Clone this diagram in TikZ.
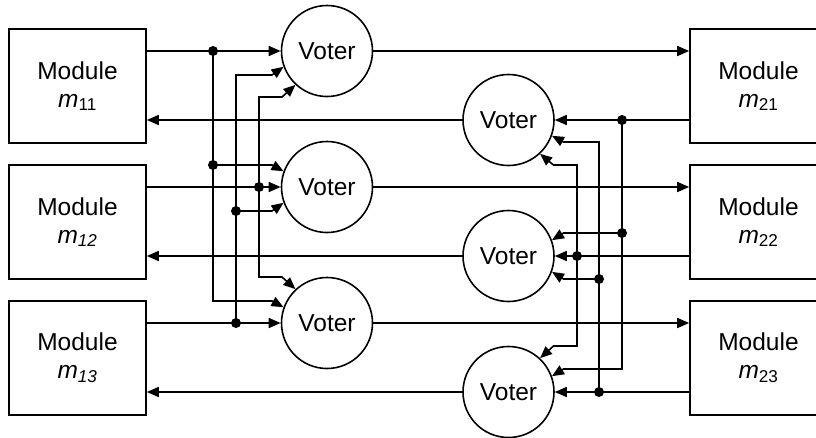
\documentclass[tikz,border=0pt]{standalone}
\usepackage{fontspec}
\setmainfont{Liberation Sans}
\usetikzlibrary{arrows.meta}
\tikzset{
  wire/.style={line width=1.6pt},
  arr/.style={wire,-{Triangle[length=12pt,width=10pt]}},
  labelfont/.style={font=\fontsize{24.5}{28}\selectfont},
  module/.style={draw,line width=1.6pt,minimum width=137pt,minimum height=114pt,
    inner sep=0pt,align=center,labelfont},
  voter/.style={draw,circle,line width=1.6pt,minimum size=91pt,inner sep=0pt,labelfont},
  junction/.style={circle,fill,inner sep=0pt,minimum size=10pt},
}
\begin{document}
\begin{tikzpicture}[x=1pt,y=-1pt]
\useasboundingbox (0,0) rectangle (816,437);
\clip (0,0) rectangle (816,437);

% modules
\node[module] (L1) at (77.5,86)  {Module\\\textit{m}\textsubscript{11}};
\node[module] (L2) at (77.5,222) {Module\\\textit{m}\textsubscript{\textit{12}}};
\node[module] (L3) at (77.5,358) {Module\\\textit{m}\textsubscript{\textit{13}}};
\node[module] (R1) at (758.5,86)  {Module\\\textit{m}\textsubscript{21}};
\node[module] (R2) at (758.5,222) {Module\\\textit{m}\textsubscript{22}};
\node[module] (R3) at (758.5,358) {Module\\\textit{m}\textsubscript{23}};

% voters
\node[voter] (VL1) at (327,51)  {Voter};
\node[voter] (VL2) at (327,187) {Voter};
\node[voter] (VL3) at (327,323) {Voter};
\node[voter] (VR1) at (508.5,120) {Voter};
\node[voter] (VR2) at (508.5,256) {Voter};
\node[voter] (VR3) at (508.5,392) {Voter};

% junction points
\coordinate (j11) at (213,51);
\coordinate (j12) at (213,165);
\coordinate (j21) at (259,187);
\coordinate (j31) at (236,323);
\coordinate (j32) at (236,211);
\coordinate (k11) at (622,120);
\coordinate (k12) at (622,233);
\coordinate (k21) at (577,256);
\coordinate (k31) at (599,392);
\coordinate (k32) at (599,279);

% main signal paths
\foreach \i in {1,2,3}{
  \draw[arr] (L\i.east |- VL\i) -- (VL\i.west);
  \draw[arr] (VL\i.east) -- (R\i.west |- VL\i);
  \draw[arr] (R\i.west |- VR\i) -- (VR\i.east);
  \draw[arr] (VR\i.west) -- (L\i.east |- VR\i);
}

% left cross connections
\draw[arr] (j11) -- (213,301) -- (272,301) -- (VL3.160);
\draw[arr] (j12) -- (272,165) -- (VL2.160);
\draw[arr] (j21) -- (259,97) -- (282,97) -- (VL1.227);
\draw[arr] (j21) -- (259,277) -- (282,277) -- (VL3.133);
\draw[arr] (j31) -- (236,75) -- (272,75) -- (VL1.200);
\draw[arr] (j32) -- (272,211) -- (VL2.200);

% right cross connections
\draw[arr] (k11) -- (622,369) -- (563.5,369) -- (VR3.20);
\draw[arr] (k12) -- (563.5,233) -- (VR2.20);
\draw[arr] (k21) -- (577,165) -- (553.5,165) -- (VR1.-47);
\draw[arr] (k21) -- (577,346) -- (553.5,346) -- (VR3.47);
\draw[arr] (k31) -- (599,142) -- (563.5,142) -- (VR1.-20);
\draw[arr] (k32) -- (563.5,279) -- (VR2.-20);

% junction dots
\foreach \p in {j11,j12,j21,j31,j32,k11,k12,k21,k31,k32}
  \node[junction] (dot-\p) at (\p) {};
\end{tikzpicture}
\end{document}
